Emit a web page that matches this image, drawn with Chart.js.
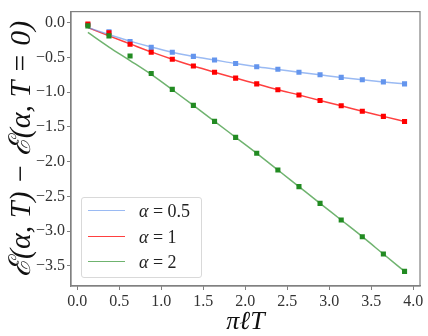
<!DOCTYPE html>
<html>
<head>
<meta charset="utf-8">
<script src="https://cdn.jsdelivr.net/npm/chart.js@4.4.1/dist/chart.umd.min.js"></script>
<style>
  html, body { margin: 0; padding: 0; background: #fff; }
  #wrap { position: relative; width: 428px; height: 336px; }
  #legend {
    position: absolute; left: 81px; top: 197px; width: 119px; height: 79px;
    border: 1px solid #d9d9d9; border-radius: 3px; background: rgba(255,255,255,0.8);
    font-family: "Liberation Serif", serif; font-size: 18px; color: #222;
  }
  .row { position: absolute; left: 6px; height: 20px; }
  .row span.ln { position: absolute; left: 0; top: 9px; width: 37px; height: 0; border-top: 1.5px solid; }
  .row span.tx { position: absolute; left: 51px; top: 0; white-space: nowrap; line-height: 20px; }
  .row i { font-style: italic; }
</style>
</head>
<body>
<div id="wrap">
  <canvas id="chart" width="428" height="336"></canvas>
  <div id="legend"></div>
</div>
<script>
  // pi*l*T sample positions
  const xVals = [0.126, 0.377, 0.628, 0.880, 1.131, 1.382, 1.634, 1.885, 2.136, 2.388, 2.639, 2.890, 3.142, 3.393, 3.644, 3.896];

  // measured points
  const blueMarks = [-0.03, -0.13, -0.27, -0.355, -0.425, -0.485, -0.536, -0.588, -0.634, -0.67, -0.713, -0.75, -0.787, -0.82, -0.852, -0.88];
  const redMarks = [-0.02, -0.146, -0.31, -0.425, -0.526, -0.624, -0.713, -0.797, -0.88, -0.964, -1.04, -1.12, -1.195, -1.274, -1.348, -1.423];
  const greenMarks = [-0.045, -0.19, -0.48, -0.73, -0.96, -1.19, -1.42, -1.65, -1.88, -2.12, -2.36, -2.60, -2.84, -3.08, -3.33, -3.58];

  // fitted curves
  const blueFit = [-0.07, -0.17, -0.265, -0.35, -0.425, -0.485, -0.536, -0.588, -0.634, -0.672, -0.713, -0.75, -0.787, -0.82, -0.852, -0.88];
  const redFit = [-0.07, -0.19, -0.305, -0.42, -0.526, -0.624, -0.713, -0.797, -0.88, -0.964, -1.04, -1.12, -1.195, -1.274, -1.348, -1.423];
  const greenFit = [-0.14, -0.35, -0.545, -0.745, -0.965, -1.19, -1.42, -1.65, -1.88, -2.12, -2.36, -2.60, -2.84, -3.08, -3.33, -3.58];

  const labels = ["0.5", "1", "2"];
  const xTicks = [0, 0.5, 1, 1.5, 2, 2.5, 3, 3.5, 4];
  const yTicks = [0, -0.5, -1, -1.5, -2, -2.5, -3, -3.5];

  const BLUE = "#6495ed", RED = "#ff0000", GREEN = "#228b22";
  const lineColors = ["rgba(100,149,237,0.65)", "rgba(255,0,0,0.75)", "rgba(34,139,34,0.65)"];

  function pts(xs, ys) {
    return ys.map((y, i) => ({ x: xs[i], y: y }));
  }

  function markSet(ys, color) {
    return {
      data: pts(xVals, ys), showLine: false, pointStyle: "rect",
      pointRadius: 3.6, pointBackgroundColor: color, pointBorderWidth: 0, order: 0,
    };
  }
  function fitSet(ys, color) {
    return {
      data: pts(xVals, ys), showLine: true, borderColor: color, borderWidth: 1.5,
      pointRadius: 0, cubicInterpolationMode: "monotone", order: 1,
    };
  }

  // frame around the plot area (all four spines)
  const framePlugin = {
    id: "frame",
    afterDatasetsDraw(chart) {
      const a = chart.chartArea, ctx = chart.ctx;
      ctx.save();
      ctx.strokeStyle = "#808080";
      ctx.lineWidth = 1.2;
      ctx.strokeRect(a.left, a.top, a.right - a.left, a.bottom - a.top);
      ctx.restore();
    },
  };

  const fmt = (v) => (v < 0 ? "\u2212" : "") + Math.abs(v).toFixed(1);

  new Chart(document.getElementById("chart"), {
    type: "scatter",
    data: {
      datasets: [
        markSet(greenMarks, GREEN),
        markSet(redMarks, RED),
        markSet(blueMarks, BLUE),
        fitSet(blueFit, lineColors[0]),
        fitSet(redFit, lineColors[1]),
        fitSet(greenFit, lineColors[2]),
      ],
    },
    options: {
      responsive: false,
      animation: false,
      layout: { padding: { left: 0, right: 8, top: 3, bottom: 0 } },
      plugins: { legend: { display: false }, tooltip: { enabled: false } },
      scales: {
        x: {
          type: "linear", min: -0.075, max: 4.08,
          afterBuildTicks: (s) => { s.ticks = xTicks.map((v) => ({ value: v })); },
          afterFit: (s) => { s.height = 50; },
          grid: { drawOnChartArea: false, drawTicks: true, tickLength: 4, color: "#808080" },
          border: { color: "#808080", width: 1.2 },
          ticks: {
            color: "#333", padding: 2,
            font: { family: "Liberation Serif", size: 16 },
            callback: (v) => fmt(v),
          },
          title: {
            display: true, text: "\u03c0\u2113T", color: "#111",
            font: { family: "Liberation Serif", size: 26, style: "italic", lineHeight: 1.0 },
            padding: { top: 0, bottom: 1 },
          },
        },
        y: {
          type: "linear", min: -3.79, max: 0.16,
          afterBuildTicks: (s) => { s.ticks = yTicks.map((v) => ({ value: v })); },
          afterFit: (s) => { s.width = 71; },
          grid: { drawOnChartArea: false, drawTicks: true, tickLength: 4, color: "#808080" },
          border: { color: "#808080", width: 1.2 },
          ticks: {
            color: "#333", padding: 2,
            font: { family: "Liberation Serif", size: 16 },
            callback: (v) => fmt(v),
          },
          title: {
            display: true, text: "\u2130(\u03b1, T) \u2212 \u2130(\u03b1, T = 0)", color: "#111",
            font: { family: "Liberation Serif", size: 30, style: "italic", lineHeight: 1.0 },
            padding: { top: 7, bottom: 0 },
          },
        },
      },
    },
    plugins: [framePlugin],
  });

  // legend box
  const legend = document.getElementById("legend");
  labels.forEach((lab, i) => {
    const row = document.createElement("div");
    row.className = "row";
    row.style.top = (3 + i * 25.5) + "px";
    row.innerHTML = '<span class="ln" style="border-color:' + lineColors[i] + '"></span>' +
      '<span class="tx"><i>\u03b1</i> = ' + lab + "</span>";
    legend.appendChild(row);
  });
</script>
</body>
</html>
